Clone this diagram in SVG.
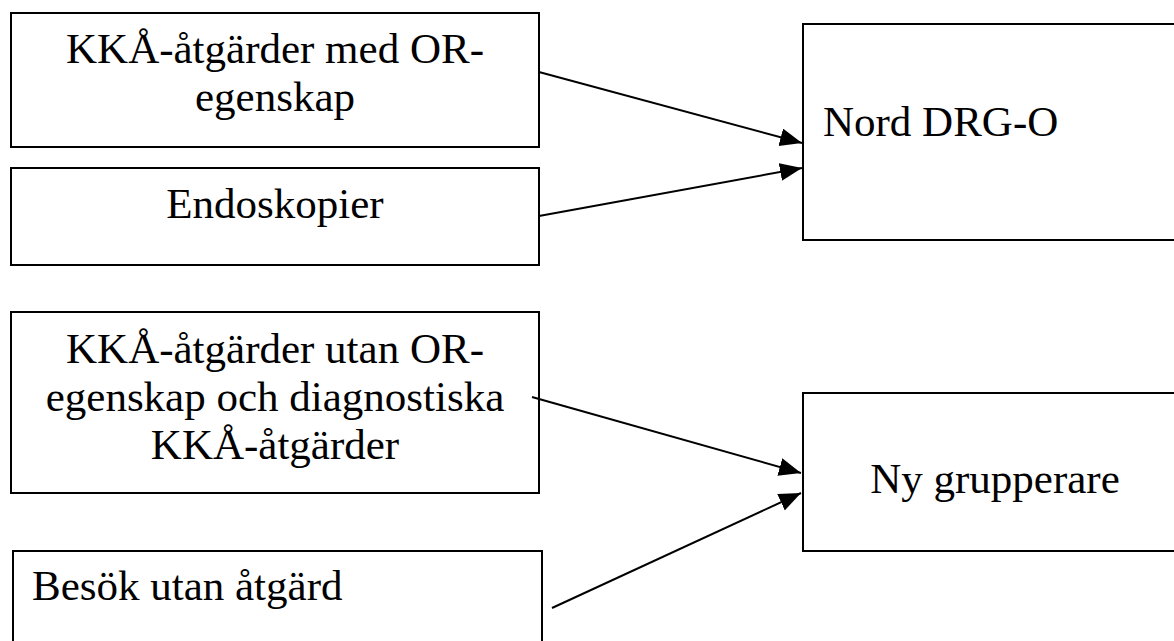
<svg xmlns="http://www.w3.org/2000/svg" width="1174" height="641" viewBox="0 0 1174 641">
  <style>
    .box { fill: #ffffff; stroke: #000000; stroke-width: 2; }
    .lbl { font-size: 43px; fill: #000000; }
    .mid { text-anchor: middle; }
    .edge { stroke: #000000; stroke-width: 2; fill: none; marker-end: url(#head); }
  </style>
  <defs>
    <marker id="head" markerUnits="userSpaceOnUse" markerWidth="24" markerHeight="20" refX="22" refY="9" orient="auto">
      <path d="M0,0 L22,9 L0,18 Z" fill="#000000"/>
    </marker>
  </defs>
  <rect width="1174" height="641" fill="#ffffff"/>

  <g font-family="Liberation Serif, Times New Roman, DejaVu Serif, serif">
    <g id="node-kka-med-or">
      <rect class="box" x="11" y="13" width="528" height="134"/>
      <text class="lbl mid" x="275" y="63">KKÅ-åtgärder med OR-</text>
      <text class="lbl mid" x="275" y="111">egenskap</text>
    </g>

    <g id="node-endoskopier">
      <rect class="box" x="11" y="168" width="528" height="97"/>
      <text class="lbl mid" x="275" y="218">Endoskopier</text>
    </g>

    <g id="node-nord-drg-o">
      <rect class="box" x="803" y="24" width="400" height="216"/>
      <text class="lbl" x="823" y="136">Nord DRG-O</text>
    </g>

    <g id="node-kka-utan-or">
      <rect class="box" x="11" y="312" width="528" height="181"/>
      <text class="lbl mid" x="275" y="363">KKÅ-åtgärder utan OR-</text>
      <text class="lbl mid" x="275" y="411">egenskap och diagnostiska</text>
      <text class="lbl mid" x="275" y="459">KKÅ-åtgärder</text>
    </g>

    <g id="node-ny-grupperare">
      <rect class="box" x="803" y="393" width="400" height="158"/>
      <text class="lbl mid" x="995" y="493">Ny grupperare</text>
    </g>

    <g id="node-besok">
      <rect class="box" x="13" y="551" width="529" height="120"/>
      <text class="lbl" x="32" y="600">Besök utan åtgärd</text>
    </g>
  </g>

  <g id="connectors">
    <line class="edge" x1="539" y1="72" x2="802" y2="143"/>
    <line class="edge" x1="539" y1="216" x2="802" y2="168"/>
    <line class="edge" x1="532" y1="397" x2="801" y2="473"/>
    <line class="edge" x1="552" y1="608" x2="801" y2="493"/>
  </g>
</svg>
